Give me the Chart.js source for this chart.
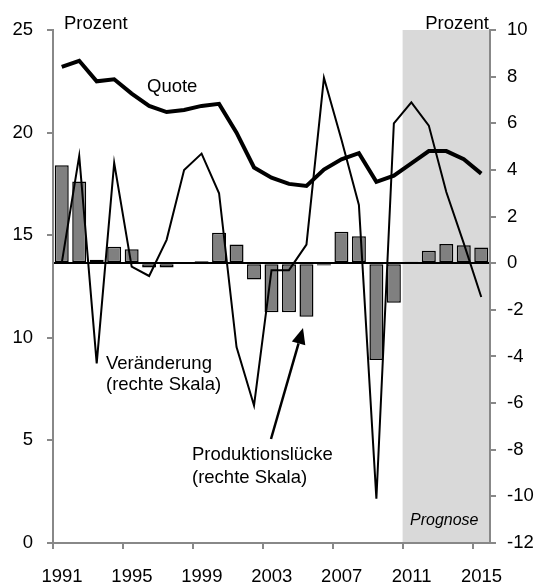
<!DOCTYPE html>
<html>
<head>
<meta charset="utf-8">
<script src="https://cdn.jsdelivr.net/npm/chart.js@4"></script>
<style>
html, body { margin: 0; padding: 0; background: #fff; }
#wrap { width: 543px; height: 585px; }
</style>
</head>
<body>
<div id="wrap"><canvas id="chart" width="543" height="585"></canvas></div>
<script>
// Jahre (Kategorien)
const jahre = [1991, 1992, 1993, 1994, 1995, 1996, 1997, 1998, 1999, 2000,
  2001, 2002, 2003, 2004, 2005, 2006, 2007, 2008, 2009, 2010,
  2011, 2012, 2013, 2014, 2015];

// Quote (linke Skala, Prozent)
const quote = [23.2, 23.5, 22.5, 22.6, 21.9, 21.3, 21.0, 21.1, 21.3, 21.4,
  20.0, 18.3, 17.8, 17.5, 17.4, 18.2, 18.7, 19.0, 17.6, 17.9,
  18.5, 19.1, 19.1, 18.7, 18.0];

// Veränderung (rechte Skala)
const veraenderung = [0.0, 4.6, -4.3, 4.3, -0.15, -0.55, 1.0, 4.0, 4.7, 3.0,
  -3.6, -6.1, -0.3, -0.3, 0.8, 7.95, 5.3, 2.5, -10.1, 6.0,
  6.9, 5.9, 3.05, 0.85, -1.45];

// Produktionslücke (rechte Skala)
const luecke = [4.2, 3.5, 0.15, 0.7, 0.6, -0.18, -0.18, 0.0, 0.08, 1.3,
  0.8, -0.7, -2.1, -2.1, -2.3, -0.1, 1.35, 1.15, -4.15, -1.7,
  0.06, 0.53, 0.82, 0.77, 0.67];

const xTicks = [1991, 1995, 1999, 2003, 2007, 2011, 2015];
const prognoseVon = 2011;
const prognoseBis = 2016;

const grau = '#888888';
const schrift = '"Liberation Sans", Arial, sans-serif';

Chart.defaults.font.family = schrift;
Chart.defaults.font.size = 18.5;
Chart.defaults.color = '#000';

// Punkte in der Mitte des Jahres
const punkte = arr => arr.map((v, i) => ({ x: jahre[i] + 0.5, y: v }));

const hintergrund = {
  id: 'hintergrund',
  beforeDraw(chart) {
    const ctx = chart.ctx;
    const a = chart.chartArea;
    const x = chart.scales.x;
    const x1 = x.getPixelForValue(prognoseVon);
    const x2 = x.getPixelForValue(prognoseBis);
    ctx.save();
    ctx.fillStyle = '#d9d9d9';
    ctx.fillRect(x1, a.top, x2 - x1, a.bottom - a.top);
    ctx.restore();
  }
};

const beschriftung = {
  id: 'beschriftung',
  afterDraw(chart) {
    const ctx = chart.ctx;
    ctx.save();
    ctx.fillStyle = '#000';
    ctx.textBaseline = 'alphabetic';
    ctx.font = '18.5px ' + schrift;
    ctx.textAlign = 'left';
    ctx.fillText('Prozent', 64, 29);
    ctx.fillText('Quote', 147, 92);
    ctx.fillText('Veränderung', 106, 369);
    ctx.fillText('(rechte Skala)', 106, 390);
    ctx.fillText('Produktionslücke', 192, 460);
    ctx.fillText('(rechte Skala)', 192, 483);
    ctx.textAlign = 'right';
    ctx.fillText('Prozent', 489, 29);
    ctx.textAlign = 'left';
    ctx.font = 'italic 16px ' + schrift;
    ctx.fillText('Prognose', 410, 525);

    // Pfeil
    const x0 = 271, y0 = 439, x1 = 303, y1 = 328;
    const w = Math.atan2(y1 - y0, x1 - x0);
    const len = 16, half = 7;
    const bx = x1 - len * Math.cos(w), by = y1 - len * Math.sin(w);
    ctx.strokeStyle = '#000';
    ctx.lineWidth = 2.5;
    ctx.beginPath();
    ctx.moveTo(x0, y0);
    ctx.lineTo(bx, by);
    ctx.stroke();
    ctx.beginPath();
    ctx.moveTo(x1, y1);
    ctx.lineTo(bx + half * Math.sin(w), by - half * Math.cos(w));
    ctx.lineTo(bx - half * Math.sin(w), by + half * Math.cos(w));
    ctx.closePath();
    ctx.fill();
    ctx.restore();
  }
};

new Chart(document.getElementById('chart'), {
  type: 'bar',
  data: {
    datasets: [
      {
        type: 'line',
        label: 'Quote',
        data: punkte(quote),
        yAxisID: 'y',
        borderColor: '#000',
        borderWidth: 4,
        pointRadius: 0,
        tension: 0,
        order: 1
      },
      {
        type: 'line',
        label: 'Veränderung',
        data: punkte(veraenderung),
        yAxisID: 'y1',
        borderColor: '#000',
        borderWidth: 2,
        pointRadius: 0,
        tension: 0,
        order: 2
      },
      {
        type: 'bar',
        label: 'Produktionslücke',
        data: punkte(luecke),
        yAxisID: 'y1',
        backgroundColor: '#808080',
        borderColor: '#000',
        borderWidth: 1.5,
        borderSkipped: false,
        barPercentage: 0.8,
        categoryPercentage: 1,
        order: 3
      }
    ]
  },
  options: {
    responsive: false,
    animation: false,
    layout: { padding: { top: 30, left: 0, right: 0, bottom: 0 } },
    plugins: {
      legend: { display: false },
      tooltip: { enabled: false }
    },
    scales: {
      x: {
        type: 'linear',
        min: 1991,
        max: 2016,
        offset: false,
        afterBuildTicks(s) { s.ticks = xTicks.map(v => ({ value: v })); },
        afterFit(s) { s.height = 42; },
        ticks: { padding: 17, labelOffset: 9, maxRotation: 0, autoSkip: false, callback: v => String(v) },
        grid: { offset: false, drawOnChartArea: false, tickLength: 6, color: grau, lineWidth: 2 },
        border: { color: grau, width: 2 }
      },
      y: {
        position: 'left',
        min: 0,
        max: 25,
        afterFit(s) { s.width = 53; },
        ticks: { stepSize: 5, padding: 14 },
        grid: { drawOnChartArea: false, tickLength: 6, color: grau, lineWidth: 2 },
        border: { color: grau, width: 2 }
      },
      y1: {
        position: 'right',
        min: -12,
        max: 10,
        afterFit(s) { s.width = 53; },
        ticks: { stepSize: 2, padding: 11 },
        grid: {
          drawOnChartArea: true,
          tickLength: 6,
          color: c => (c.tick && c.tick.value === 0 ? '#000' : 'rgba(0,0,0,0)'),
          lineWidth: c => (c.tick && c.tick.value === 0 ? 2 : 0),
          tickColor: grau,
          tickWidth: 2
        },
        border: { color: grau, width: 2 }
      }
    }
  },
  plugins: [hintergrund, beschriftung]
});
</script>
</body>
</html>
